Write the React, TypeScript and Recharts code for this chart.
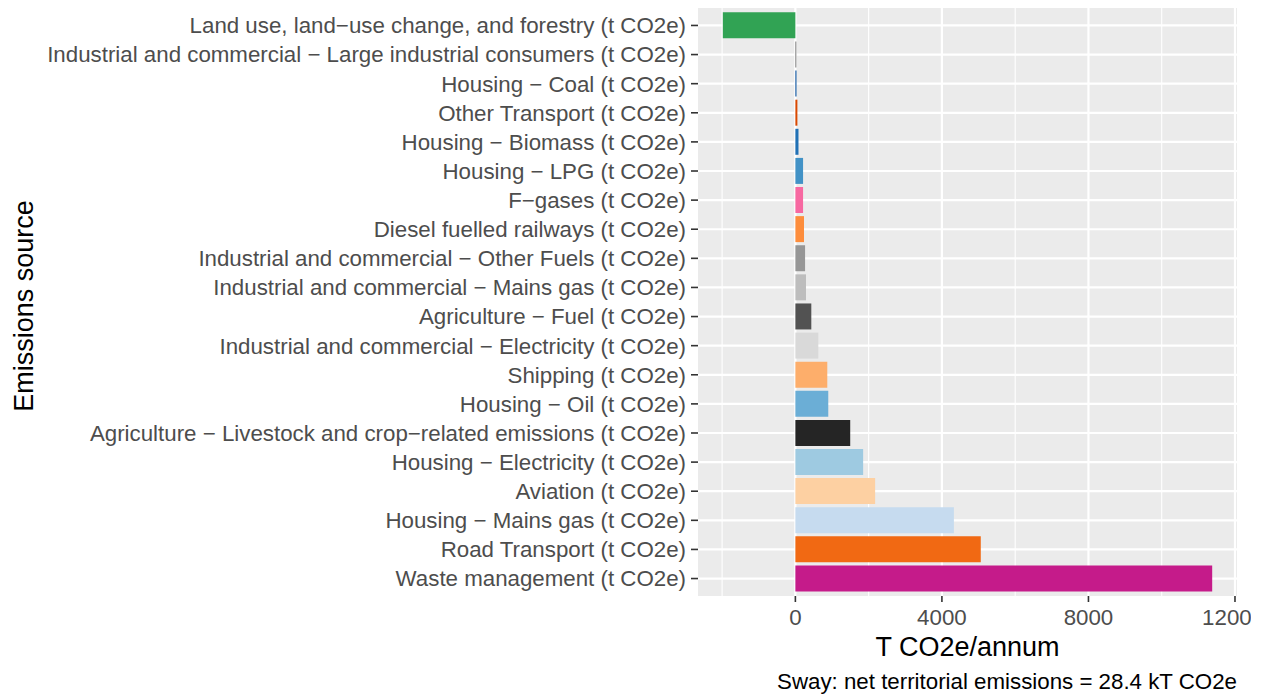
import React from 'react';
import { BarChart, Bar, XAxis, YAxis, CartesianGrid, ReferenceLine, Cell } from 'recharts';

const categories: string[] = [
  'Land use, land\u2212use change, and forestry (t CO2e)',
  'Industrial and commercial \u2212 Large industrial consumers (t CO2e)',
  'Housing \u2212 Coal (t CO2e)',
  'Other Transport (t CO2e)',
  'Housing \u2212 Biomass (t CO2e)',
  'Housing \u2212 LPG (t CO2e)',
  'F\u2212gases (t CO2e)',
  'Diesel fuelled railways (t CO2e)',
  'Industrial and commercial \u2212 Other Fuels (t CO2e)',
  'Industrial and commercial \u2212 Mains gas (t CO2e)',
  'Agriculture \u2212 Fuel (t CO2e)',
  'Industrial and commercial \u2212 Electricity (t CO2e)',
  'Shipping (t CO2e)',
  'Housing \u2212 Oil (t CO2e)',
  'Agriculture \u2212 Livestock and crop\u2212related emissions (t CO2e)',
  'Housing \u2212 Electricity (t CO2e)',
  'Aviation (t CO2e)',
  'Housing \u2212 Mains gas (t CO2e)',
  'Road Transport (t CO2e)',
  'Waste management (t CO2e)',
];

const values: number[] = [
  -1980, 25, 30, 55, 85, 210, 210, 235, 265, 290,
  435, 626, 871, 898, 1497, 1850, 2177, 4327, 5061, 11378,
];

const barColors: string[] = [
  '#31a354', '#737373', '#08519c', '#d94801', '#2171b5',
  '#4292c6', '#f768a1', '#fd8d3c', '#969696', '#bdbdbd',
  '#525252', '#d9d9d9', '#fdae6b', '#6baed6', '#252525',
  '#9ecae1', '#fdd0a2', '#c6dbef', '#f16913', '#c51b8a',
];

const xTicks: number[] = [0, 4000, 8000, 12000];
const xMinorTicks: number[] = [-2000, 2000, 6000, 10000];
const xDomain: [number, number] = [-2658, 12055];

const xTitle = 'T CO2e/annum';
const yTitle = 'Emissions source';
const caption = 'Sway: net territorial emissions = 28.4 kT CO2e';

const data = categories.map((name, i) => ({ name, value: values[i] }));

const FONT = '"Liberation Sans", Arial, Helvetica, sans-serif';

export default function App() {
  return (
    <div
      style={{
        position: 'absolute',
        left: 0,
        top: 0,
        width: 1261,
        height: 698,
        background: '#ffffff',
        fontFamily: FONT,
        overflow: 'hidden',
      }}
    >
      <div style={{ position: 'absolute', left: 0, top: 0, width: 1251, height: 698, overflow: 'hidden' }}>
        <BarChart
          width={1261}
          height={698}
          data={data}
          layout="vertical"
          margin={{ top: 8, right: 24, bottom: 72, left: 0 }}
          barCategoryGap="5%"
        >
          <CartesianGrid fill="#ebebeb" horizontal={false} vertical={false} stroke="none" />
          {xMinorTicks.map((v) => (
            <ReferenceLine key={'m' + v} x={v} stroke="#ffffff" strokeWidth={1.1} zIndex={-50} />
          ))}
          {xTicks.map((v) => (
            <ReferenceLine key={'M' + v} x={v} stroke="#ffffff" strokeWidth={2.2} zIndex={-50} />
          ))}
          {categories.map((c) => (
            <ReferenceLine key={'c' + c} y={c} stroke="#ffffff" strokeWidth={2.2} zIndex={-50} />
          ))}
          <XAxis
            type="number"
            dataKey="value"
            domain={xDomain}
            ticks={xTicks}
            allowDataOverflow
            axisLine={false}
            tickSize={6}
            tickMargin={7}
            height={30}
            tickLine={{ stroke: '#333333', strokeWidth: 1.6 }}
            tick={{ fill: '#4d4d4d', fontSize: 22.3, fontFamily: FONT }}
          />
          <YAxis
            type="category"
            dataKey="name"
            width={698}
            axisLine={false}
            tickSize={7}
            tickMargin={5}
            interval={0}
            padding={{ top: 2.9, bottom: 2.9 }}
            tickLine={{ stroke: '#333333', strokeWidth: 1.6 }}
            tick={{ fill: '#4d4d4d', fontSize: 22.3, fontFamily: FONT }}
          />
          <Bar dataKey="value" isAnimationActive={false}>
            {data.map((d, i) => (
              <Cell key={d.name} fill={barColors[i]} />
            ))}
          </Bar>
        </BarChart>
      </div>
      <svg
        width={1261}
        height={698}
        style={{ position: 'absolute', left: 0, top: 0, pointerEvents: 'none' }}
      >
        <text x={967.5} y={656} textAnchor="middle" fontSize={27} fill="#000000" fontFamily={FONT}>
          {xTitle}
        </text>
        <text
          x={33}
          y={306}
          textAnchor="middle"
          fontSize={27}
          fill="#000000"
          fontFamily={FONT}
          transform="rotate(-90, 33, 306)"
        >
          {yTitle}
        </text>
        <text x={1237} y={689} textAnchor="end" fontSize={22.3} fill="#000000" fontFamily={FONT}>
          {caption}
        </text>
      </svg>
    </div>
  );
}
